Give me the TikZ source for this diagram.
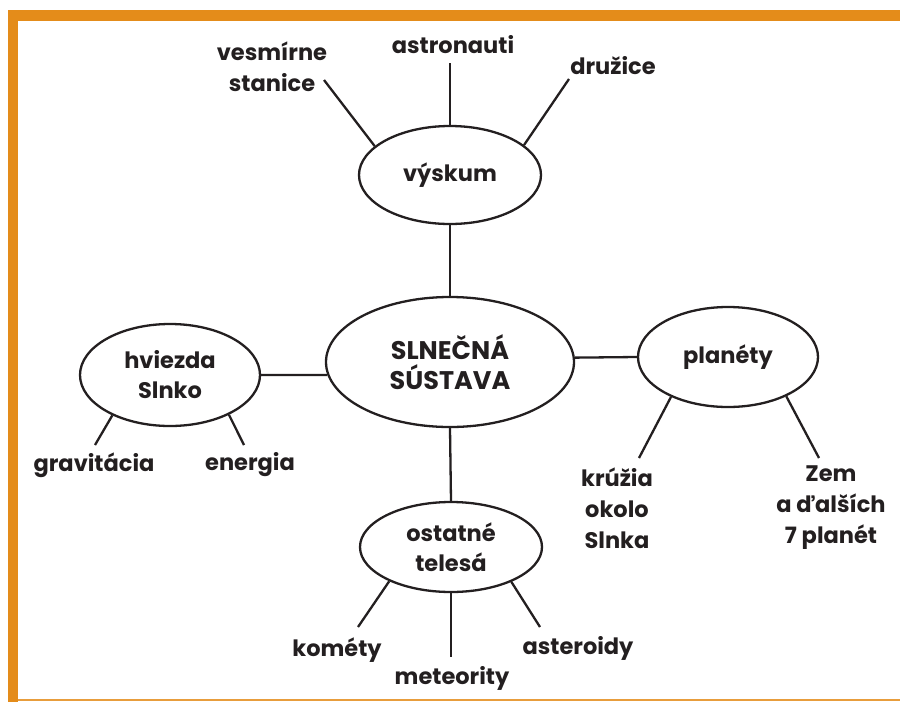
\documentclass[tikz,border=0pt]{standalone}
\usepackage{fontspec}
\setmainfont{Poppins}
\usetikzlibrary{shapes.geometric}
\definecolor{frameorange}{RGB}{228,140,26}
\definecolor{inkblack}{RGB}{35,31,32}
\tikzset{
  ell/.style={ellipse, draw=inkblack, line width=2.3pt, inner sep=0pt, align=center,
              text=inkblack, font=\bfseries\fontsize{22.5}{30}\selectfont},
  lbl/.style={inner sep=0pt, align=center, text=inkblack,
              font=\bfseries\fontsize{22.5}{31}\selectfont},
  conn/.style={draw=inkblack, line width=2.3pt}
}
\begin{document}
\begin{tikzpicture}[x=1pt,y=-1pt]
\useasboundingbox (0,0) rectangle (900,702);
% frame
\fill[frameorange] (8,10) rectangle (900,21);
\fill[frameorange] (8,10) rectangle (18,702);
\draw[frameorange!85, line width=1.6pt] (18,700) -- (900,700);

% ellipses
\node[ell, minimum width=248, minimum height=130, font=\bfseries\fontsize{25.5}{30}\selectfont] (cen) at (450,362) {SLNEČNÁ\\SÚSTAVA};
\node[ell, minimum width=182, minimum height=98] (vys) at (450,175) {výskum};
\node[ell, minimum width=180, minimum height=102] (hv) at (170,375) {hviezda\\Slnko};
\node[ell, minimum width=180, minimum height=100] (pla) at (728,357) {planéty};
\node[ell, minimum width=182, minimum height=90] (ost) at (451,547) {ostatné\\telesá};

% labels
\node[lbl] (ves) at (272,67) {vesmírne\\stanice};
\node[lbl] (ast) at (453,45) {astronauti};
\node[lbl] (dru) at (613,66) {družice};
\node[lbl] (gra) at (94,465) {gravitácia};
\node[lbl] (ene) at (250,465) {energia};
\node[lbl] (kru) at (617,508) {krúžia\\okolo\\Slnka};
\node[lbl] (zem) at (831,508) {Zem\\a ďalších\\7 planét};
\node[lbl] (kom) at (337,650) {kométy};
\node[lbl] (met) at (452,678) {meteority};
\node[lbl] (aster) at (578,648) {asteroidy};

% free ends
\coordinate (eVes) at (324,80);
\coordinate (eAst) at (450,63);
\coordinate (eDru) at (569,79);
\coordinate (eGra) at (95,445);
\coordinate (eEne) at (244,445);
\coordinate (eKru) at (639,458);
\coordinate (eZem) at (819,458);
\coordinate (eKom) at (358,627);
\coordinate (eMet) at (451,657);
\coordinate (eAster) at (540,627);

% connectors between ellipses
\draw[conn] (vys.south) -- (cen.north);
\draw[conn] (hv.east) -- (cen.186);
\draw[conn] (cen.2) -- (pla.west);
\draw[conn] (cen.south) -- (ost.north);

% connectors to labels
\draw[conn] (vys.159) -- (eVes);
\draw[conn] (vys.north) -- (eAst);
\draw[conn] (vys.22) -- (eDru);
\draw[conn] (hv.215) -- (eGra);
\draw[conn] (hv.326) -- (eEne);
\draw[conn] (pla.215) -- (eKru);
\draw[conn] (pla.326) -- (eZem);
\draw[conn] (ost.209) -- (eKom);
\draw[conn] (ost.south) -- (eMet);
\draw[conn] (ost.330) -- (eAster);
\end{tikzpicture}
\end{document}
